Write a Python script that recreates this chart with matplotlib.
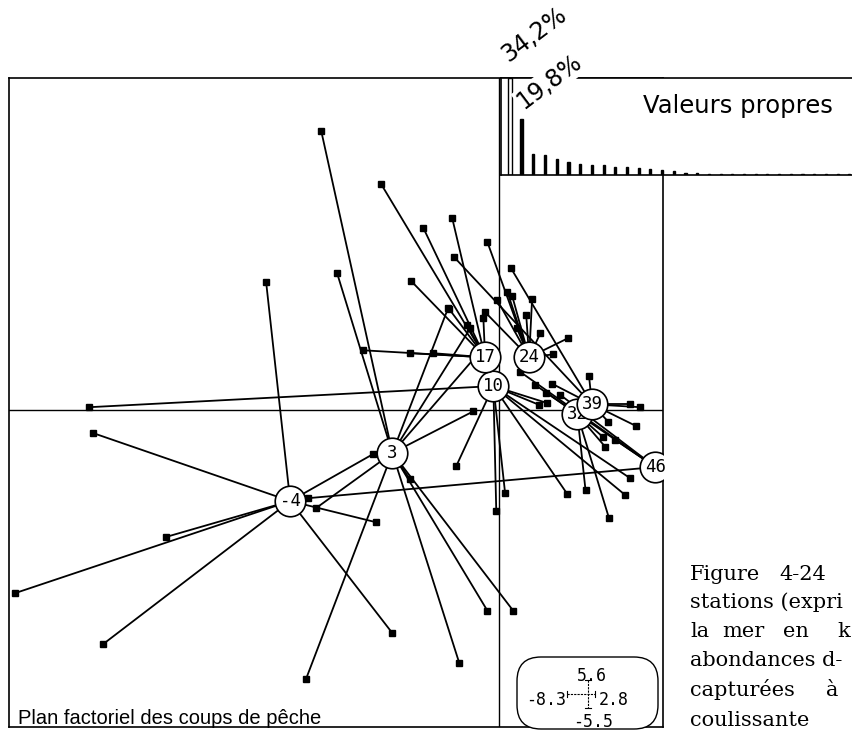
import matplotlib
matplotlib.use("Agg")
import matplotlib.pyplot as plt
from matplotlib.patches import FancyBboxPatch

W, H, DPI = 853, 737, 100

# ---------------- data ----------------
centroid_labels = ["-4", "3", "10", "17", "24", "32", "39", "46"]
centroid_x = [-3.56, -1.82, -0.10, -0.24, 0.51, 1.33, 1.58, 2.66]
centroid_y = [-1.55, -0.73, 0.41, 0.90, 0.90, -0.07, 0.10, -0.97]

grp_m4_x = [-6.92, -8.25, -5.67, -6.75, -1.82, -2.10, -2.15, -3.97]
grp_m4_y = [-0.39, -3.12, -2.16, -3.99, -3.80, -1.91, -0.75, 2.18]

grp_3_x = [-3.03, -2.76, -0.87, -0.49, -0.29, -0.44, -3.12, -3.29, -0.68, -0.20, 0.24, -1.52]
grp_3_y = [4.75, 2.33, 1.74, 1.40, 1.04, -0.02, -1.67, -4.58, -4.31, -3.42, -3.42, -1.18]

grp_10_x = [-6.98, -0.73, 0.10, -0.05, 1.16, 2.23, 2.15, 0.68, 0.82]
grp_10_y = [0.05, -0.95, -1.41, -1.72, -1.43, -1.16, -1.45, 0.09, 0.12]

grp_17_x = [-2.01, -1.29, -0.80, -1.50, -2.32, -1.52, -1.12, -0.85, -0.55, -0.27]
grp_17_y = [3.85, 3.10, 3.27, 2.20, 1.02, 0.97, 0.97, 1.72, 1.45, 1.57]

grp_24_x = [-0.20, 0.14, 0.56, 0.46, 1.18, 0.92, 0.70, -0.24, -0.03, 0.22, 0.30]
grp_24_y = [2.86, 2.01, 1.89, 1.62, 1.23, 0.95, 1.31, 1.67, 1.87, 1.95, 1.40]

grp_32_x = [1.47, 1.87, 1.77, 1.81, 0.80]
grp_32_y = [-1.36, -1.84, -0.46, -0.63, 0.30]

grp_39_x = [-0.77, 0.20, 2.23, 2.40, 2.33, 1.86, 1.53, 0.90]
grp_39_y = [2.61, 2.42, 0.10, 0.05, -0.27, -0.20, 0.58, 0.45]

grp_46_x = [-3.25, 0.61, 1.04, 1.98, 0.36]
grp_46_y = [-1.50, 0.43, 0.26, -0.51, 0.65]

groups = {
    "-4": (grp_m4_x, grp_m4_y), "3": (grp_3_x, grp_3_y), "10": (grp_10_x, grp_10_y),
    "17": (grp_17_x, grp_17_y), "24": (grp_24_x, grp_24_y), "32": (grp_32_x, grp_32_y),
    "39": (grp_39_x, grp_39_y), "46": (grp_46_x, grp_46_y),
}

eigen_pct = [34.2, 19.8, 7.4, 7.2, 5.6, 4.6, 3.9, 3.7, 3.4, 2.9, 2.7, 2.3, 2.0, 1.7, 1.4,
             0.6, 0.6, 0.5, 0.5, 0.5, 0.4, 0.4, 0.4, 0.4, 0.3, 0.3, 0.3, 0.3, 0.3, 0.3]

x_min_lbl, x_max_lbl, y_max_lbl, y_min_lbl = -8.3, 2.8, 5.6, -5.5

title_plan = "Plan factoriel des coups de pêche"
title_eigen = "Valeurs propres"
caption_words = [("Figure", 690, 580), ("4-24", 779, 580),
                 ("stations (expri", 690, 608),
                 ("la", 690, 637), ("mer", 722, 637), ("en", 783, 637), ("k", 837, 637),
                 ("abondances d-", 690, 666),
                 ("capturées", 690, 696), ("à", 826, 696),
                 ("coulissante", 690, 726)]

# ---------------- figure ----------------
fig = plt.figure(figsize=(W / DPI, H / DPI), dpi=DPI)
fig.patch.set_facecolor("white")

ax = fig.add_axes([9 / W, 10 / H, 654 / W, 649 / H])
ax.set_xlim(-8.35, 2.79)
ax.set_ylim(-5.40, 5.66)
ax.set_xticks([]); ax.set_yticks([])
for s in ax.spines.values():
    s.set_linewidth(1.2)
ax.axhline(0, color="black", lw=1.0, zorder=1)
ax.axvline(0, color="black", lw=1.0, zorder=1)

cpos = {lab: (cx, cy) for lab, cx, cy in zip(centroid_labels, centroid_x, centroid_y)}
for lab, (gx, gy) in groups.items():
    cx, cy = cpos[lab]
    for x, y in zip(gx, gy):
        ax.plot([x, cx], [y, cy], color="black", lw=1.3, zorder=2, solid_capstyle="round")
    ax.plot(gx, gy, "s", color="black", ms=4.8, zorder=3)

for i, (lab, cx, cy) in enumerate(zip(centroid_labels, centroid_x, centroid_y)):
    z = 5 + 2 * i
    ax.plot([cx], [cy], "o", ms=22, mfc="white", mec="black", mew=1.2, zorder=z)
    ax.text(cx, cy, lab, ha="center", va="center", fontsize=12.5,
            family="DejaVu Sans Mono", zorder=z + 1)

# eigenvalue inset
ins = fig.add_axes([501 / W, (H - 175) / H, 360 / W, 97 / H])
ins.set_zorder(2)
ins.set_facecolor("white")
idx = list(range(1, len(eigen_pct) + 1))
widths = [0.42, 0.28] + [0.18] * (len(eigen_pct) - 2)
faces = ["white"] + ["black"] * (len(eigen_pct) - 1)
ins.bar(idx, eigen_pct, width=widths, color=faces, edgecolor="black", linewidth=1.0)
ins.set_xlim(1 - 9 / 11.7, 1 - 9 / 11.7 + 360 / 11.7)
ins.set_ylim(0, eigen_pct[0])
ins.set_xticks([]); ins.set_yticks([])
ins.spines["right"].set_visible(False)
for s in ("top", "left", "bottom"):
    ins.spines[s].set_linewidth(1.2)

# overlay for annotations (pixel coordinates)
ov = fig.add_axes([0, 0, 1, 1])
ov.set_zorder(3)
ov.set_xlim(0, W); ov.set_ylim(H, 0)
ov.axis("off")
ov.patch.set_alpha(0)

def pct(v):
    return f"{v:.1f}%".replace(".", ",")

ov.text(508, 63, pct(eigen_pct[0]), rotation=37, rotation_mode="anchor",
        ha="left", va="baseline", fontsize=17, family="DejaVu Sans")
ov.text(524, 110, pct(eigen_pct[1]), rotation=37, rotation_mode="anchor",
        ha="left", va="baseline", fontsize=17, family="DejaVu Sans",
        bbox=dict(facecolor="white", edgecolor="none", pad=1.0))
ov.text(643, 113, title_eigen, ha="left", va="baseline", fontsize=17.5, family="DejaVu Sans")
ov.text(18, 724, title_plan, ha="left", va="baseline", fontsize=14.5, family="Liberation Sans")

for word, x, y in caption_words:
    ov.text(x, y, word, ha="left", va="baseline", fontsize=15, family="DejaVu Serif")

# range legend box
box = FancyBboxPatch((517, 657), 141, 72, boxstyle="round,pad=0,rounding_size=24",
                     facecolor="white", edgecolor="black", lw=1.0, zorder=2)
ov.add_patch(box)
cxp, cyp, sc = 588, 694, 2.5
ov.plot([cxp + x_min_lbl * sc, cxp + x_max_lbl * sc], [cyp, cyp], color="black", lw=0.8, ls=(0, (2, 1)))
ov.plot([cxp, cxp], [cyp - y_max_lbl * sc, cyp - y_min_lbl * sc], color="black", lw=0.8, ls=(0, (2, 1)))
for ex in (x_min_lbl, x_max_lbl):
    ov.plot([cxp + ex * sc] * 2, [cyp - 3, cyp + 3], color="black", lw=0.8)
for ey in (y_max_lbl, y_min_lbl):
    ov.plot([cxp - 3, cxp + 3], [cyp - ey * sc] * 2, color="black", lw=0.8)
mono = dict(family="DejaVu Sans Mono", fontsize=12)
ov.text(592, 681, f"{y_max_lbl}", ha="center", va="baseline", **mono)
ov.text(566, 705, f"{x_min_lbl}", ha="right", va="baseline", **mono)
ov.text(599, 705, f"{x_max_lbl}", ha="left", va="baseline", **mono)
ov.text(593, 727, f"{y_min_lbl}", ha="center", va="baseline", **mono)

fig.savefig("out.png", dpi=DPI, facecolor="white")
